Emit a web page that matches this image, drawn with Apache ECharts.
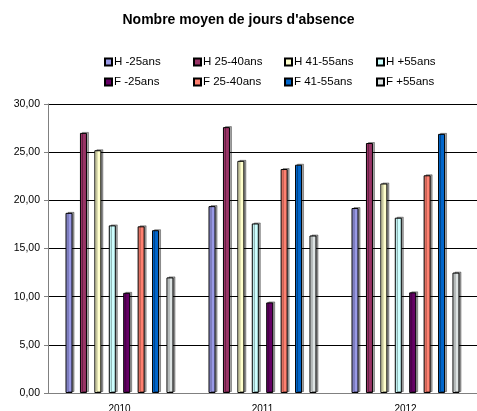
<!DOCTYPE html>
<html>
<head>
<meta charset="utf-8">
<script src="https://cdn.jsdelivr.net/npm/echarts@6/dist/echarts.min.js"></script>
<style>
  html, body { margin: 0; padding: 0; background: #fff; }
  #chart { width: 477px; height: 411px; }
</style>
</head>
<body>
<div id="chart"></div>
<script>
// Years on the x axis
const years = ['2010', '2011', '2012'];

// Average days of absence per group, one array per series
const hMoins25 = [18.7, 19.4, 19.2];
const h25_40 = [27.0, 27.6, 25.95];
const h41_55 = [25.2, 24.1, 21.75];
const hPlus55 = [17.4, 17.6, 18.2];
const fMoins25 = [10.4, 9.4, 10.45];
const f25_40 = [17.3, 23.25, 22.6];
const f41_55 = [16.9, 23.7, 26.9];
const fPlus55 = [12.0, 16.35, 12.5];

const seriesNames = ['H -25ans', 'H 25-40ans', 'H 41-55ans', 'H +55ans',
                     'F -25ans', 'F 25-40ans', 'F 41-55ans', 'F +55ans'];
const seriesData = [hMoins25, h25_40, h41_55, hPlus55, fMoins25, f25_40, f41_55, fPlus55];
const seriesColors = ['#9999E6', '#993366', '#FFFFCC', '#CCFFFF',
                      '#660066', '#FF8070', '#0066CC', '#DDE3E3'];

const FONT = 'Liberation Sans, Arial, sans-serif';

// Legend laid out as a 4 x 2 grid
const legendCols = [104, 193, 284, 376];
const legendRows = [56, 76];
const legends = seriesNames.map((name, i) => ({
  data: [name],
  left: legendCols[i % 4],
  top: legendRows[Math.floor(i / 4)],
  padding: 0,
  itemWidth: 7,
  itemHeight: 7,
  icon: 'rect',
  selectedMode: false,
  textStyle: { fontFamily: FONT, fontSize: 11.5, color: '#000', padding: [0, 0, 0, -3] }
}));

const chart = echarts.init(document.getElementById('chart'), null, { renderer: 'canvas' });
chart.setOption({
  animation: false,
  backgroundColor: '#fff',
  title: {
    text: "Nombre moyen de jours d'absence",
    left: 'center',
    top: 13,
    padding: 0,
    textStyle: { fontFamily: FONT, fontSize: 14, fontWeight: 'bold', color: '#000' }
  },
  legend: legends,
  // fixed plot box; the year labels are allowed to run off the bottom edge
  grid: { left: 48, right: 0, top: 104, bottom: 18, containLabel: false, outerBoundsMode: 'none' },
  xAxis: {
    type: 'category',
    data: years,
    axisLine: { lineStyle: { color: '#808080', width: 1 } },
    axisTick: { show: false },
    axisLabel: { fontFamily: FONT, fontSize: 10, color: '#000', margin: 11 }
  },
  yAxis: {
    type: 'value',
    min: 0,
    max: 30,
    interval: 5,
    axisLine: { show: true, lineStyle: { color: '#808080', width: 1 } },
    axisTick: { show: true, length: 4, lineStyle: { color: '#808080' } },
    axisLabel: {
      fontFamily: FONT, fontSize: 10.5, color: '#000', margin: 8,
      formatter: v => v.toFixed(2).replace('.', ',')
    },
    splitLine: { lineStyle: { color: '#000', width: 1 } }
  },
  series: seriesNames.map((name, i) => ({
    name: name,
    type: 'bar',
    data: seriesData[i],
    barWidth: 7,
    barGap: '106%',
    itemStyle: {
      color: seriesColors[i],
      borderColor: '#000',
      borderWidth: 1,
      shadowColor: 'rgba(0,0,0,0.35)',
      shadowOffsetX: 2,
      shadowOffsetY: -1,
      shadowBlur: 0
    }
  }))
});
</script>
</body>
</html>
